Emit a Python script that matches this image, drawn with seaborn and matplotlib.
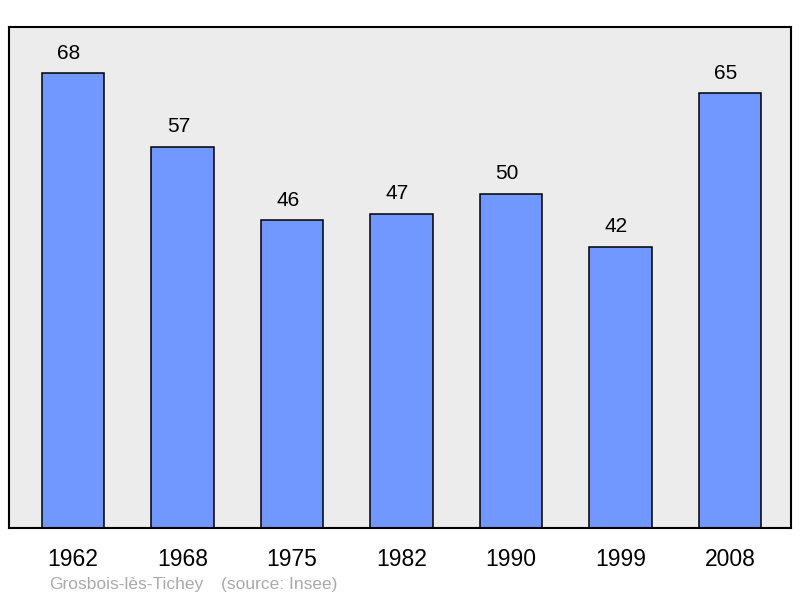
import matplotlib
matplotlib.use("Agg")
import matplotlib.pyplot as plt
import pandas as pd
import seaborn as sns

YEARS = ["1962", "1968", "1975", "1982", "1990", "1999", "2008"]
POPULATION = [68, 57, 46, 47, 50, 42, 65]
TOWN = "Grosbois-lès-Tichey"
SOURCE = "(source: Insee)"

BAR_COLOR = "#7098ff"
BG_COLOR = "#ececec"

sns.set_style("white")
plt.rcParams["font.family"] = ["Liberation Sans", "DejaVu Sans"]

df = pd.DataFrame({"year": YEARS, "population": POPULATION})

fig = plt.figure(figsize=(8, 5.98), dpi=100)
ax = fig.add_axes([9 / 800, 70 / 598, 782 / 800, 501 / 598])
ax.set_facecolor(BG_COLOR)

sns.barplot(data=df, x="year", y="population", color=BAR_COLOR, saturation=1,
            width=0.57, edgecolor="black", linewidth=1.1, ax=ax)

# values sit a bit left of the bar centre, as in the original
for i, value in enumerate(POPULATION):
    ax.annotate(str(value), (i, value), xytext=(-3, 14.5), textcoords="offset points",
                ha="center", va="center", fontsize=15, color="black")

ax.set_xlim(-0.585, 6.555)
ax.set_ylim(0, 74.9)
ax.set_xlabel("")
ax.set_ylabel("")
ax.set_yticks([])
ax.tick_params(axis="x", length=0, pad=14.5, labelsize=16.5, colors="black")

for spine in ax.spines.values():
    spine.set_visible(True)
    spine.set_color("black")
    spine.set_linewidth(1.5)

fig.text(49 / 800, 1 - 584 / 598, TOWN, fontsize=12.5, color="#aaaaaa", va="center")
fig.text(221 / 800, 1 - 584 / 598, SOURCE, fontsize=12.5, color="#aaaaaa", va="center")

fig.savefig("out.png", dpi=100, facecolor="white")
